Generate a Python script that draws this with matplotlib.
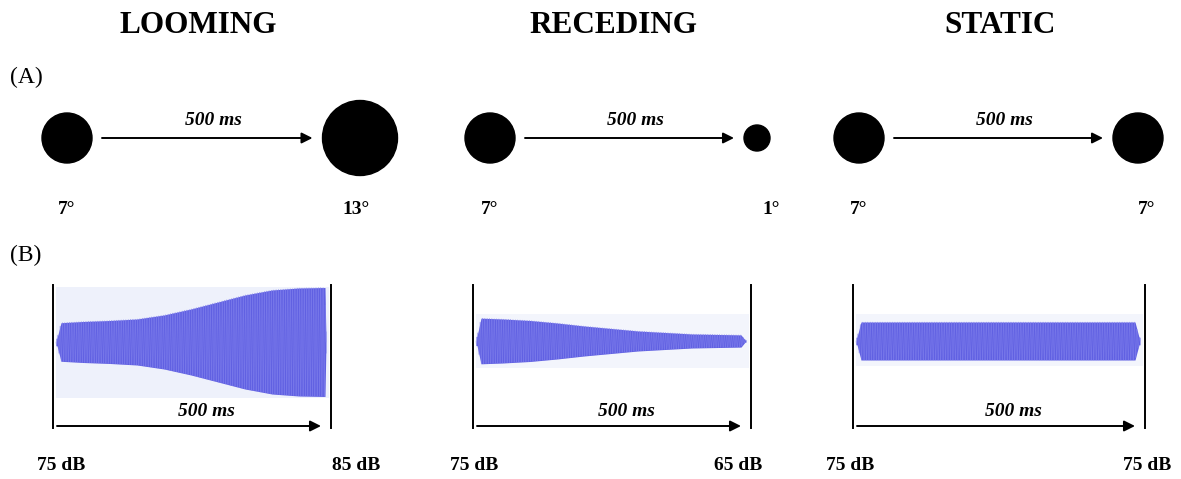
import numpy as np
import matplotlib.pyplot as plt
from matplotlib.patches import Circle, Rectangle

plt.rcParams['font.family'] = ['Liberation Serif', 'DejaVu Serif']

conditions = ['LOOMING', 'RECEDING', 'STATIC']
start_deg = [7, 7, 7]
end_deg = [13, 1, 7]
start_db = [75, 75, 75]
end_db = [85, 65, 75]
duration_ms = 500

# envelope half-height of each sound (px), 11 points from onset to offset
env_looming = [19, 20.5, 21.5, 23, 27, 33, 40, 47, 52, 54, 54.5]
env_receding = [23, 22, 20.5, 18, 15, 12.5, 10, 8.5, 7, 6.5, 6]
env_static = [19, 19, 19, 19, 19, 19, 19, 19, 19, 19, 19]
envelopes = [env_looming, env_receding, env_static]

# layout (pixels)
title_x = [198, 613, 1000]
circ_x0 = [67, 490, 859]
circ_x1 = [360, 757, 1138]
rad0 = [25, 25, 25]
rad1 = [37.5, 13, 25]
deg_x1 = [356, 771, 1147]
bar_x0 = [53, 473, 853]
bar_x1 = [331, 751, 1145]
db_x0 = [61, 474, 850]
db_x1 = [356, 738, 1147]
wave_center = [342, 341, 341]
end_taper = [1, 5, 5]
band = [(287, 398, '#eef1fb'), (314, 368, '#f3f5fc'), (314, 366, '#f3f5fc')]

fig = plt.figure(figsize=(11.81, 4.79), dpi=100)
ax = fig.add_axes([0, 0, 1, 1])
ax.set_xlim(0, 1181)
ax.set_ylim(479, 0)
ax.axis('off')

ax.text(10, 77, '(A)', fontsize=17, va='center', ha='left')
ax.text(10, 255, '(B)', fontsize=17, va='center', ha='left')

arrow = dict(arrowstyle='-|>', lw=1.4, color='black', mutation_scale=16, shrinkA=0, shrinkB=0)
cy = 138
lab = dict(fontsize=14, fontweight='bold', ha='center', va='center')
ms = dict(fontsize=14, fontweight='bold', style='italic', ha='center', va='center')

for i, name in enumerate(conditions):
    ax.text(title_x[i], 25, name, fontsize=22.5, fontweight='bold', ha='center', va='center')

    # (A) visual stimulus
    ax.add_patch(Circle((circ_x0[i], cy), rad0[i], color='black'))
    ax.add_patch(Circle((circ_x1[i], cy), rad1[i], color='black'))
    a0 = circ_x0[i] + 35
    a1 = circ_x1[i] - rad1[i] - 10
    ax.annotate('', xy=(a1, cy), xytext=(a0, cy), arrowprops=arrow)
    ax.text((a0 + a1) / 2 + 6, 120, f'{duration_ms} ms', **ms)
    ax.text(circ_x0[i], 210, f'{start_deg[i]}°', **lab)
    ax.text(deg_x1[i], 210, f'{end_deg[i]}°', **lab)

    # (B) auditory stimulus
    w0 = bar_x0[i] + 3
    w1 = bar_x1[i] - 5
    y0, y1, bc = band[i]
    ax.add_patch(Rectangle((w0, y0), w1 - w0 + 3, y1 - y0, color=bc, lw=0))
    t = np.linspace(0, 1, 4000)
    env = np.interp(t, np.linspace(0, 1, len(envelopes[i])), envelopes[i])
    px = t * (w1 - w0)
    taper = np.clip(np.minimum(px / 5.0, ((w1 - w0) - px) / end_taper[i]), 0.2, 1.0)
    env = env * taper
    xs = w0 + px
    c = wave_center[i]
    ax.fill_between(xs, c - env, c + env, color='#6060e2', lw=0)
    ax.plot(xs, c + env * np.sin(2 * np.pi * 115 * t), color='#8585ee', lw=0.5, alpha=0.6)

    ax.plot([bar_x0[i], bar_x0[i]], [285, 428], color='black', lw=1.4)
    ax.plot([bar_x1[i], bar_x1[i]], [285, 428], color='black', lw=1.4)
    ax.annotate('', xy=(bar_x1[i] - 10, 426), xytext=(bar_x0[i] + 4, 426), arrowprops=arrow)
    ax.text((bar_x0[i] + bar_x1[i]) / 2 + 14, 412, f'{duration_ms} ms', **ms)
    ax.text(db_x0[i], 465, f'{start_db[i]} dB', **lab)
    ax.text(db_x1[i], 465, f'{end_db[i]} dB', **lab)

fig.savefig('out.png', dpi=100)
